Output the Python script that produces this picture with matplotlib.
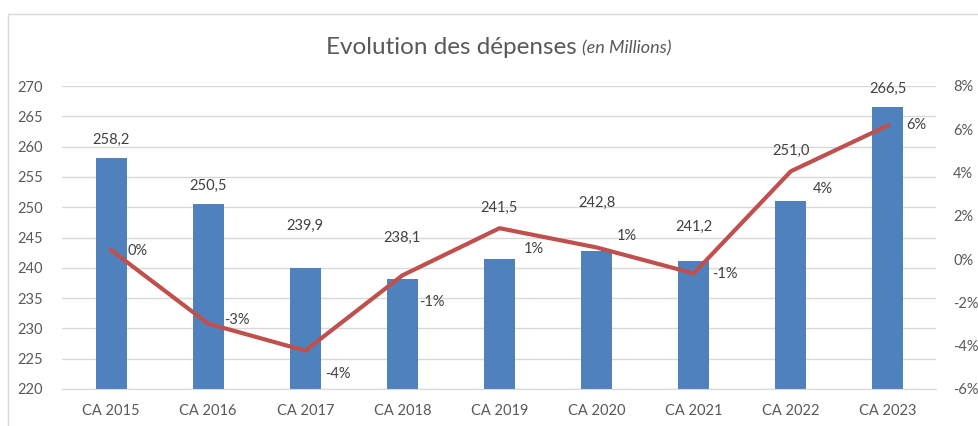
import matplotlib
matplotlib.use("Agg")
import matplotlib.pyplot as plt
from matplotlib.patches import Rectangle
from matplotlib.ticker import FuncFormatter

plt.rcParams['font.family'] = ['Lato', 'DejaVu Sans']

categories = ["CA 2015", "CA 2016", "CA 2017", "CA 2018", "CA 2019",
              "CA 2020", "CA 2021", "CA 2022", "CA 2023"]
depenses = [258.2, 250.5, 239.9, 238.1, 241.5, 242.8, 241.2, 251.0, 266.5]
evolution = [0.42, -2.98, -4.23, -0.75, 1.43, 0.54, -0.66, 4.06, 6.18]
bar_labels = ["258,2", "250,5", "239,9", "238,1", "241,5", "242,8", "241,2", "251,0", "266,5"]
pct_labels = ["0%", "-3%", "-4%", "-1%", "1%", "1%", "-1%", "4%", "6%"]
left_ticks = [220, 225, 230, 235, 240, 245, 250, 255, 260, 265, 270]
right_ticks = [-6, -4, -2, 0, 2, 4, 6, 8]

# label offsets in pixels (layout)
bar_lab_dy = [18, 18, 43, 41, 51, 48, 34, 50, 18]
pct_lab_dx = [16, 16, 20, 17, 24, 20, 18, 22, 18]
pct_lab_dy = [-1, 4, -23, -27, -21, 11, -1, -18, 0]

W, H = 979, 426
fig = plt.figure(figsize=(W / 100, H / 100), dpi=100)
TXT = "#595959"
GRID = "#D9D9D9"
BAR = "#4F81BD"
LINE = "#C0504D"

# chart frame
fig.patches.append(Rectangle((8 / W, -0.1), 1.2, 1.1 - 14 / H,
                             transform=fig.transFigure, fill=False,
                             edgecolor="#D9D9D9", linewidth=1.0))

ax = fig.add_axes([62.5 / W, 1 - 389 / H, (936.5 - 62.5) / W, (389 - 86) / H])
x = list(range(len(categories)))
ax.bar(x, depenses, width=0.32, color=BAR, zorder=2)
ax.set_ylim(220, 270)
ax.set_xlim(-0.5, len(categories) - 0.5)
ax.set_yticks(left_ticks)
ax.set_xticks(x)
ax.set_xticklabels(categories)
ax.grid(axis='y', color=GRID, linewidth=1.0, zorder=0)
ax.set_axisbelow(True)
for s in ['top', 'left', 'right']:
    ax.spines[s].set_visible(False)
ax.spines['bottom'].set_color(GRID)
ax.tick_params(axis='both', length=0, colors=TXT, labelsize=10.5)
ax.tick_params(axis='y', pad=14)
ax.tick_params(axis='x', pad=11)

px2pt = 0.72
for i, (v, lab) in enumerate(zip(depenses, bar_labels)):
    ax.annotate(lab, (i, v), xytext=(0, bar_lab_dy[i] * px2pt),
                textcoords='offset points', ha='center', va='center',
                color="#404040", fontsize=10.5, zorder=5)

ax2 = ax.twinx()
ax2.plot(x, evolution, color=LINE, linewidth=3.0, zorder=3,
         solid_joinstyle='round')
ax2.set_ylim(-6, 8)
ax2.set_yticks(right_ticks)
ax2.yaxis.set_major_formatter(FuncFormatter(lambda v, p: f"{v:.0f}%"))
for s in ['top', 'left', 'right', 'bottom']:
    ax2.spines[s].set_visible(False)
ax2.tick_params(axis='y', length=0, colors=TXT, labelsize=10.5, pad=12)
for i, (v, lab) in enumerate(zip(evolution, pct_labels)):
    ax2.annotate(lab, (i, v), xytext=(pct_lab_dx[i] * px2pt, pct_lab_dy[i] * px2pt),
                 textcoords='offset points', ha='left', va='center',
                 color="#404040", fontsize=10.5, zorder=5)

# title
fig.text(577 / W, 1 - 47 / H, "Evolution des dépenses", ha='right', va='center',
         fontsize=17.5, color=TXT)
fig.text(582 / W, 1 - 48 / H, "(en Millions)", ha='left', va='center',
         fontsize=13, color=TXT, style='italic')

fig.savefig("out.png", dpi=100)
